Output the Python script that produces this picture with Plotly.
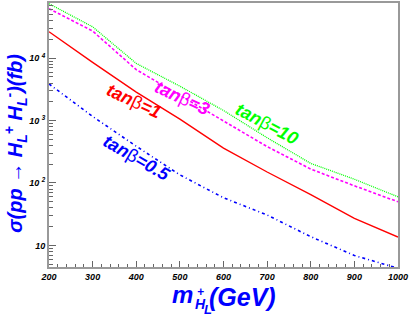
import math
import plotly.graph_objects as go

mass = [200, 300, 400, 500, 600, 700, 800, 900, 1000]
xs_tb10 = [74600, 31800, 8240, 3560, 1452, 531, 206, 115, 60]
xs_tb3 = [62200, 27200, 6550, 2560, 988, 383, 167, 90, 50]
xs_tb1 = [26500, 8550, 2860, 1052, 363, 150, 65, 27, 13.6]
xs_tb05 = [3860, 1166, 388, 135, 58, 30.7, 13.8, 6.9, 4.3]

y_tickvals = [10, 100, 1000, 10000]
y_ticktext = ["<b><i>10</i></b>", "<b><i>10 <sup>2</sup></i></b>",
              "<b><i>10 <sup>3</sup></i></b>", "<b><i>10 <sup>4</sup></i></b>"]
x_tickvals = [200, 300, 400, 500, 600, 700, 800, 900, 1000]

FONT = "Liberation Sans, Arial, sans-serif"
BLUE = "#0000ff"

fig = go.Figure()
fig.add_trace(go.Scatter(x=mass, y=xs_tb10, mode="lines",
                         line=dict(color="#00ff00", width=1.3, dash="1px,1px")))
fig.add_trace(go.Scatter(x=mass, y=xs_tb3, mode="lines",
                         line=dict(color="#ff00ff", width=1.6, dash="3px,2px")))
fig.add_trace(go.Scatter(x=mass, y=xs_tb1, mode="lines",
                         line=dict(color="#ff0000", width=1.4)))
fig.add_trace(go.Scatter(x=mass, y=xs_tb05, mode="lines",
                         line=dict(color=BLUE, width=1.6, dash="3px,3px,1px,3px")))

beta = "<span style='font-weight:normal;font-style:normal'>β</span>"
labels = [
    ("tan" + beta + "=1", 394, 2055, 25, "#ff0000"),
    ("tan" + beta + "=3", 505, 2290, 25, "#ff00ff"),
    ("tan" + beta + "=10", 700, 887, 28, "#00ff00"),
    ("tan" + beta + "=0.5", 401, 256, 30, BLUE),
]
for txt, xv, yv, ang, col in labels:
    fig.add_annotation(x=xv, y=math.log10(yv), text="<b><i>" + txt + "</i></b>",
                       showarrow=False, textangle=ang,
                       font=dict(family=FONT, size=18, color=col))

minor_y = [m * 10 ** d for d in range(0, 5) for m in range(2, 10)]

fig.update_xaxes(range=[200, 1000], tickmode="array", tickvals=x_tickvals,
                 ticks="inside", ticklen=6, tickcolor="#666", tickwidth=1,
                 showline=True, linecolor="#999", linewidth=2, mirror=True,
                 showgrid=False, zeroline=False,
                 tickfont=dict(family=FONT, size=9, color="black", weight="bold", style="italic"),
                 minor=dict(dtick=20, ticks="inside", ticklen=3, tickcolor="#666", showgrid=False))
fig.update_yaxes(type="log", range=[0.654, 4.884], tickmode="array",
                 tickvals=y_tickvals, ticktext=y_ticktext,
                 ticks="inside", ticklen=7, tickcolor="#666", tickwidth=1,
                 showline=True, linecolor="#999", linewidth=2, mirror=True,
                 showgrid=False, zeroline=False,
                 tickfont=dict(family=FONT, size=9, color="black"),
                 minor=dict(tickmode="array", tickvals=minor_y, ticks="inside",
                            ticklen=4, tickcolor="#666", showgrid=False))

# x-axis title built from pieces (stacked sub/superscript)
xtitle_parts = [
    ("m", 24, 122, -27),
    ("H", 14, 145, -37),
    ("+", 12, 147, -25),
    ("L", 13, 154, -42),
    ("(GeV)", 25, 159, -30),
]
for txt, sz, dx, dy in xtitle_parts:
    fig.add_annotation(xref="paper", yref="paper", x=0, y=0, xanchor="left", yanchor="middle",
                       xshift=dx, yshift=dy, text="<b><i>" + txt + "</i></b>", borderpad=0,
                       showarrow=False, font=dict(family=FONT, size=sz, color=BLUE))

fig.add_annotation(xref="paper", yref="paper", x=-0.095, y=0.47, xanchor="center",
                   text="<b><i>σ(pp → H<sub>L</sub><sup>+</sup> H<sub>L</sub><sup>-</sup>)(fb)</i></b>",
                   showarrow=False, textangle=-90,
                   font=dict(family=FONT, size=20, color=BLUE))

fig.update_layout(width=409, height=317, showlegend=False,
                  paper_bgcolor="white", plot_bgcolor="white",
                  margin=dict(l=49, r=11, t=1, b=50))
fig.write_html("out.html", post_script="document.body.style.margin='0px';",
               config={"displayModeBar": False})
